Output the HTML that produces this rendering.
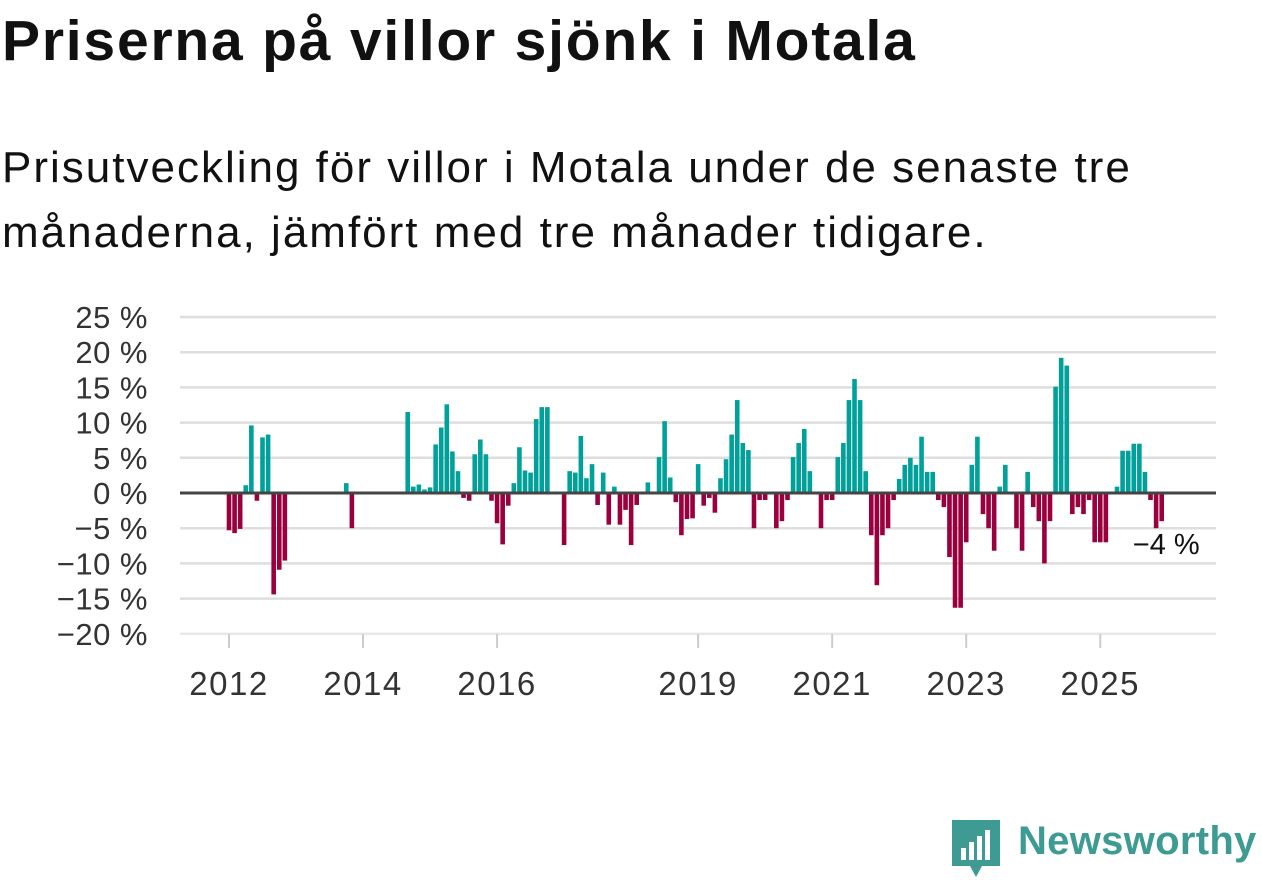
<!DOCTYPE html>
<html><head><meta charset="utf-8"><style>
body{margin:0;width:1262px;height:879px;background:#fff;overflow:hidden;font-family:"Liberation Sans",sans-serif}
</style></head><body>
<div style="position:absolute;left:2px;top:8px;font-size:57px;letter-spacing:1.8px;font-weight:bold;color:#111;white-space:nowrap">Priserna på villor sjönk i Motala</div>
<div style="position:absolute;left:2px;top:135px;font-size:44px;letter-spacing:2px;line-height:65px;color:#111;width:1250px;white-space:nowrap">Prisutveckling för villor i Motala under de senaste tre<br>månaderna, jämfört med tre månader tidigare.</div>
<svg id="chart" style="position:absolute;left:0;top:0" width="1262" height="879"></svg>
<div style="position:absolute;left:952px;top:820px">
<svg width="50" height="58"><path d="M0 0H48V46H30L24 57L18 46H0Z" fill="#3d9b93"/><rect x="9" y="28" width="5" height="12" fill="#fff"/><rect x="17" y="22" width="5" height="18" fill="#fff"/><rect x="25" y="16" width="5" height="24" fill="#fff"/><rect x="33" y="10" width="5" height="30" fill="#fff"/></svg>
</div>
<div style="position:absolute;left:1018px;top:819px;font-size:40px;letter-spacing:0.3px;font-weight:bold;color:#3d9b93">Newsworthy</div>
<script>
const yTicks=[25,20,15,10,5,0,-5,-10,-15,-20];
const yearLabels=["2012","2014","2016","2019","2021","2023","2025"];
const yearMonths=[0,24,48,84,108,132,156];
const months=[0,1,2,3,4,5,6,7,8,9,10,21,22,32,33,34,35,36,37,38,39,40,41,42,43,44,45,46,47,48,49,50,51,52,53,54,55,56,57,60,61,62,63,64,65,66,67,68,69,70,71,72,73,75,77,78,79,80,81,82,83,84,85,86,87,88,89,90,91,92,93,94,95,96,98,99,100,101,102,103,104,106,107,108,109,110,111,112,113,114,115,116,117,118,119,120,121,122,123,124,125,126,127,128,129,130,131,132,133,134,135,136,137,138,139,141,142,143,144,145,146,147,148,149,150,151,152,153,154,155,156,157,159,160,161,162,163,164,165,166,167];
const values=[-5.3,-5.7,-5.1,1.1,9.6,-1.1,7.9,8.3,-14.4,-10.9,-9.6,1.4,-5.0,11.5,0.9,1.2,0.5,0.8,6.9,9.3,12.6,5.9,3.1,-0.7,-1.1,5.5,7.6,5.5,-1.1,-4.3,-7.3,-1.8,1.4,6.5,3.2,2.9,10.5,12.2,12.2,-7.4,3.1,2.9,8.1,2.1,4.1,-1.7,2.9,-4.5,0.9,-4.5,-2.4,-7.4,-1.7,1.5,5.1,10.2,2.2,-1.3,-6.0,-3.7,-3.6,4.1,-1.8,-0.7,-2.8,2.1,4.8,8.3,13.2,7.1,6.1,-5.0,-1.0,-1.0,-5.0,-4.0,-1.0,5.1,7.1,9.1,3.1,-5.0,-1.0,-1.0,5.1,7.1,13.2,16.2,13.2,3.1,-6.0,-13.1,-6.0,-5.0,-1.0,2.0,4.0,5.0,4.0,8.0,3.0,3.0,-1.0,-2.0,-9.1,-16.3,-16.3,-7.0,4.0,8.0,-3.0,-5.0,-8.2,0.9,4.0,-5.0,-8.2,3.0,-2.0,-4.0,-10.0,-4.0,15.1,19.2,18.1,-3.0,-2.0,-3.0,-1.0,-7.0,-7.0,-7.0,0.9,6.0,6.0,7.0,7.0,3.0,-1.0,-5.0,-4.0];
const lastLabel="−4 %";
const NS="http://www.w3.org/2000/svg";
const svg=document.getElementById('chart');
const x=m=>229+m*5.585;
const y=v=>493-v*7.04;
function mk(t,a){const e=document.createElementNS(NS,t);for(const k in a)e.setAttribute(k,a[k]);svg.appendChild(e);return e;}
yTicks.forEach(t=>{
  const g=mk('line',{x1:180,x2:1216,y1:y(t),y2:y(t),stroke:t===-20?'#e8e8e8':'#dedede','stroke-width':2.5});
  
  
  const l=mk('text',{x:148,y:y(t)+11,'text-anchor':'end','font-size':31,'letter-spacing':0.5,fill:'#333'});
  l.textContent=(t<0?'−'+(-t):t)+' %';
  
  
});
yearLabels.forEach((lab,i)=>{
  const xx=x(yearMonths[i]);
  const tk=mk('line',{x1:xx,x2:xx,y1:634,y2:648,stroke:'#ccc','stroke-width':2});
  
  
  const t=mk('text',{x:xx,y:695,'text-anchor':'middle','font-size':33,'letter-spacing':1.5,fill:'#333'});
  t.textContent=lab;
  
  
});
months.forEach((m,i)=>{
  const v=values[i];
  const r=mk('rect',{x:x(m)-2.3,width:4.6,y:Math.min(y(v),y(0)),height:Math.abs(y(v)-y(0)),fill:v>=0?'#00a19a':'#99003d'});
  
  
});
const z=mk('line',{x1:180,x2:1216,y1:y(0),y2:y(0),stroke:'#444','stroke-width':3});


const lm=months[months.length-1],lv=values[values.length-1];
const lt=mk('text',{x:x(lm)+38,y:y(lv)+33,'text-anchor':'end','font-size':29,fill:'#111',stroke:'#fff','stroke-width':6,'paint-order':'stroke'});
lt.textContent=lastLabel;


</script>
</body></html>
